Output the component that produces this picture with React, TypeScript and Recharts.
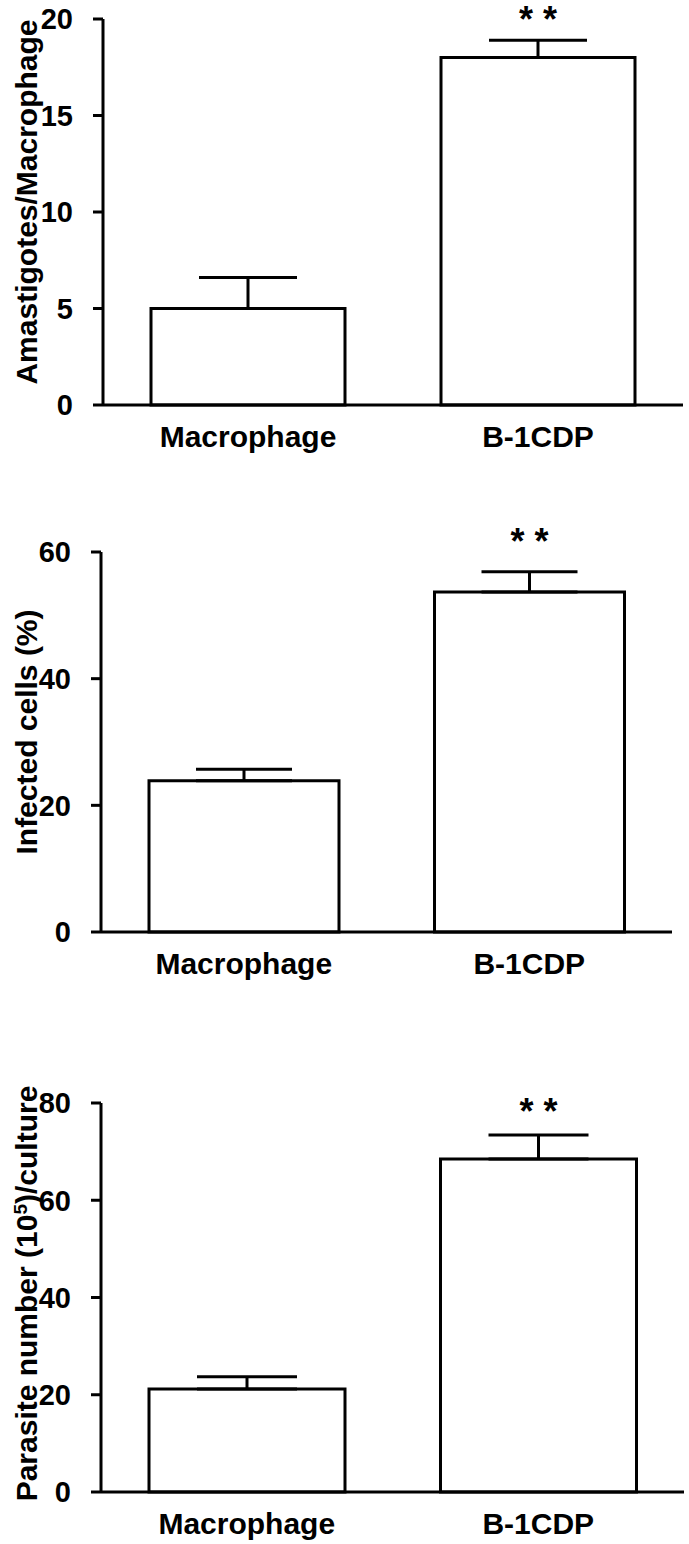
import React from 'react';
import { BarChart, Bar, XAxis, YAxis, ErrorBar, LabelList } from 'recharts';

const categories = ['Macrophage', 'B-1CDP'];
const significance = ['', '* *'];

const amastigoteMeans = [5.0, 18.0];
const amastigoteSem = [1.6, 0.9];
const amastigoteTicks = [0, 5, 10, 15, 20];

const infectedMeans = [23.9, 53.7];
const infectedSem = [1.8, 3.2];
const infectedTicks = [0, 20, 40, 60];

const parasiteMeans = [21.2, 68.5];
const parasiteSem = [2.5, 4.9];
const parasiteTicks = [0, 20, 40, 60, 80];

const FONT = "'Liberation Sans', Arial, sans-serif";

type PanelProps = {
  means: number[];
  sem: number[];
  ticks: number[];
  title: React.ReactNode;
  top: number;
  height: number;
  margin: { top: number; right: number; bottom: number; left: number };
  barSize: number;
  capHalf: number;
  titleShift: number;
  starOffset: number;
};

function Panel(p: PanelProps) {
  const data = categories.map((name, i) => ({
    name,
    mean: p.means[i],
    err: [0, p.sem[i]],
    sig: significance[i],
  }));

  const renderTitle = (props: any) => {
    const vb = props.viewBox;
    const cy = vb.y + vb.height / 2 + p.titleShift;
    const bx = 37;
    return (
      <text
        x={bx}
        y={cy}
        transform={`rotate(-90, ${bx}, ${cy})`}
        textAnchor="middle"
        fontFamily={FONT}
        fontWeight="bold"
        fontSize={30}
        fill="#000"
      >
        {p.title}
      </text>
    );
  };

  const renderStars = (props: any) => {
    const { x, y, width, value } = props;
    if (!value) return null;
    return (
      <text
        x={x + width / 2}
        y={y - p.starOffset}
        textAnchor="middle"
        fontFamily={FONT}
        fontWeight="bold"
        fontSize={36}
        fill="#000"
      >
        {value}
      </text>
    );
  };

  return (
    <div style={{ position: 'absolute', left: 0, top: p.top, width: 689, height: p.height }}>
      <BarChart width={689} height={p.height} data={data} margin={p.margin}>
        <XAxis
          dataKey="name"
          height={40}
          axisLine={{ stroke: '#000', strokeWidth: 3 }}
          tickLine={false}
          tickSize={0}
          tickMargin={21}
          tick={{ fill: '#000', fontSize: 30, fontWeight: 'bold', fontFamily: FONT }}
        />
        <YAxis
          width={50}
          domain={[p.ticks[0], p.ticks[p.ticks.length - 1]]}
          ticks={p.ticks}
          interval={0}
          axisLine={{ stroke: '#000', strokeWidth: 3 }}
          tickLine={{ stroke: '#000', strokeWidth: 3 }}
          tickSize={10}
          tickMargin={20}
          tick={{ fill: '#000', fontSize: 29, fontWeight: 'bold', fontFamily: FONT }}
          label={renderTitle}
        />
        <Bar
          dataKey="mean"
          fill="#fff"
          stroke="#000"
          strokeWidth={3}
          barSize={p.barSize}
          isAnimationActive={false}
        >
          <ErrorBar dataKey="err" width={p.capHalf} stroke="#000" strokeWidth={3} />
          <LabelList dataKey="sig" content={renderStars} />
        </Bar>
      </BarChart>
    </div>
  );
}

export default function App() {
  return (
    <div style={{ position: 'absolute', left: 0, top: 0, width: 689, height: 1544, background: '#fff' }}>
      <Panel
        means={amastigoteMeans}
        sem={amastigoteSem}
        ticks={amastigoteTicks}
        title="Amastigotes/Macrophage"
        top={0}
        height={500}
        margin={{ top: 19, right: 6, bottom: 55, left: 53 }}
        barSize={194}
        capHalf={49}
        titleShift={-10}
        starOffset={26}
      />
      <Panel
        means={infectedMeans}
        sem={infectedSem}
        ticks={infectedTicks}
        title="Infected cells (%)"
        top={500}
        height={520}
        margin={{ top: 52, right: 17, bottom: 48, left: 51 }}
        barSize={190}
        capHalf={48}
        titleShift={-10}
        starOffset={38}
      />
      <Panel
        means={parasiteMeans}
        sem={parasiteSem}
        ticks={parasiteTicks}
        title={
          <>
            <tspan>Parasite number (10</tspan>
            <tspan fontSize={19} dy={-10}>5</tspan>
            <tspan dy={10}>)/culture</tspan>
          </>
        }
        top={1020}
        height={524}
        margin={{ top: 83, right: 5, bottom: 12, left: 51 }}
        barSize={196}
        capHalf={50}
        titleShift={-4}
        starOffset={35}
      />
    </div>
  );
}
